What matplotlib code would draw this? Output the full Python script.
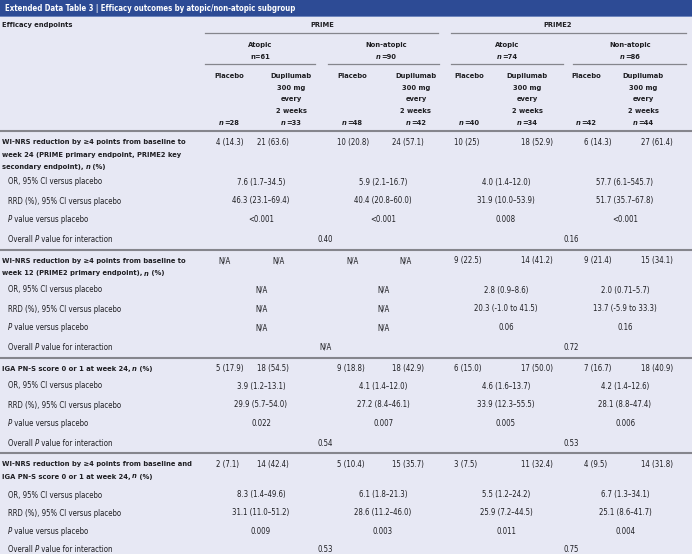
import matplotlib
matplotlib.use('Agg')
import matplotlib.pyplot as plt
from matplotlib import font_manager
from matplotlib.font_manager import FontProperties, findfont, get_font
from matplotlib.patches import Rectangle

# ---------------- data ----------------
title = "Extended Data Table 3 | Efficacy outcomes by atopic/non-atopic subgroup"
studies = ["PRIME", "PRIME2"]
subgroups = ["Atopic", "Non-atopic", "Atopic", "Non-atopic"]
subgroup_n = ["n=61", "*n*=90", "*n*=74", "*n*=86"]
arm_n = ["28", "33", "48", "42", "40", "34", "42", "44"]

endpoint_labels = [
    ["WI-NRS reduction by ≥4 points from baseline to",
     "week 24 (PRIME primary endpoint, PRIME2 key",
     "secondary endpoint), *n* (%)"],
    ["WI-NRS reduction by ≥4 points from baseline to",
     "week 12 (PRIME2 primary endpoint), *n* (%)"],
    ["IGA PN-S score 0 or 1 at week 24, *n* (%)"],
    ["WI-NRS reduction by ≥4 points from baseline and",
     "IGA PN-S score 0 or 1 at week 24, *n* (%)"],
]
sub_labels = ["OR, 95% CI versus placebo", "RRD (%), 95% CI versus placebo",
              "*P* value versus placebo", "Overall *P* value for interaction"]

responders = [
    ["4 (14.3)", "21 (63.6)", "10 (20.8)", "24 (57.1)", "10 (25)", "18 (52.9)", "6 (14.3)", "27 (61.4)"],
    ["N/A", "N/A", "N/A", "N/A", "9 (22.5)", "14 (41.2)", "9 (21.4)", "15 (34.1)"],
    ["5 (17.9)", "18 (54.5)", "9 (18.8)", "18 (42.9)", "6 (15.0)", "17 (50.0)", "7 (16.7)", "18 (40.9)"],
    ["2 (7.1)", "14 (42.4)", "5 (10.4)", "15 (35.7)", "3 (7.5)", "11 (32.4)", "4 (9.5)", "14 (31.8)"],
]
odds_ratio = [
    ["7.6 (1.7–34.5)", "5.9 (2.1–16.7)", "4.0 (1.4–12.0)", "57.7 (6.1–545.7)"],
    ["N/A", "N/A", "2.8 (0.9–8.6)", "2.0 (0.71–5.7)"],
    ["3.9 (1.2–13.1)", "4.1 (1.4–12.0)", "4.6 (1.6–13.7)", "4.2 (1.4–12.6)"],
    ["8.3 (1.4–49.6)", "6.1 (1.8–21.3)", "5.5 (1.2–24.2)", "6.7 (1.3–34.1)"],
]
rrd = [
    ["46.3 (23.1–69.4)", "40.4 (20.8–60.0)", "31.9 (10.0–53.9)", "51.7 (35.7–67.8)"],
    ["N/A", "N/A", "20.3 (-1.0 to 41.5)", "13.7 (-5.9 to 33.3)"],
    ["29.9 (5.7–54.0)", "27.2 (8.4–46.1)", "33.9 (12.3–55.5)", "28.1 (8.8–47.4)"],
    ["31.1 (11.0–51.2)", "28.6 (11.2–46.0)", "25.9 (7.2–44.5)", "25.1 (8.6–41.7)"],
]
p_values = [
    ["<0.001", "<0.001", "0.008", "<0.001"],
    ["N/A", "N/A", "0.06", "0.16"],
    ["0.022", "0.007", "0.005", "0.006"],
    ["0.009", "0.003", "0.011", "0.004"],
]
p_interaction = [
    ["0.40", "0.16"],
    ["N/A", "0.72"],
    ["0.54", "0.53"],
    ["0.53", "0.75"],
]

# ---------------- style ----------------
names = {f.name for f in font_manager.fontManager.ttflist}
STRETCH = 'normal'
if 'Liberation Sans Narrow' in names:
    FAM = 'Liberation Sans Narrow'
elif any(f.name == 'DejaVu Sans' and f.stretch == 'condensed' for f in font_manager.fontManager.ttflist):
    FAM = 'DejaVu Sans'
    STRETCH = 'condensed'
else:
    FAM = 'Liberation Sans'
plt.rcParams['font.family'] = [FAM, 'DejaVu Sans']

DPI = 100
BG = '#e7e8f4'
TITLE_BG = '#2d4b95'
TXT = '#1e1e22'
SEP = '#85858c'
FS = 5.6      # regular body text
FSB = 5.4     # bold text

fig = plt.figure(figsize=(6.92, 5.54), dpi=DPI)
fig.patch.set_facecolor(BG)
ax = fig.add_axes([0, 0, 1, 1])
ax.set_xlim(0, 692)
ax.set_ylim(554, 0)
ax.axis('off')
ax.set_facecolor(BG)


def width_of(s, weight, style, size):
    """Advance width of s in pixels (sum of glyph advances)."""
    prop = FontProperties(family=FAM, weight=weight, style=style,
                          stretch=STRETCH, size=size)
    font = get_font(findfont(prop))
    font.set_size(size, DPI)
    total = 0.0
    for c in s:
        g = font.load_char(ord(c))
        total += g.linearHoriAdvance / 65536.0
    return total


def rich(x, y, s, ha='left', bold=False, size=None, color=TXT):
    weight = 'bold' if bold else 'normal'
    if size is None:
        size = FSB if bold else FS
    if '*' not in s:
        ax.text(x, y, s, ha=ha, va='center', fontsize=size, fontweight=weight,
                fontstretch=STRETCH, color=color)
        return
    parts = s.split('*')
    segs = [(p, 'italic' if i % 2 else 'normal') for i, p in enumerate(parts) if p]
    widths = [width_of(p, weight, st, size) for p, st in segs]
    total = sum(widths)
    x0 = x - total / 2 if ha == 'center' else (x - total if ha == 'right' else x)
    for (p, st), w in zip(segs, widths):
        ax.text(x0, y, p, ha='left', va='center', fontsize=size, fontweight=weight,
                fontstyle=st, fontstretch=STRETCH, color=color)
        x0 += w


# title bar
ax.add_patch(Rectangle((0, 0), 692, 17, facecolor=TITLE_BG, edgecolor='none'))
ax.add_patch(Rectangle((0, 16), 692, 1.2, facecolor='#6f86bd', edgecolor='none'))
ax.text(5, 8.3, title, ha='left', va='center', fontsize=5.6, fontweight='bold',
        color='white', fontstretch=STRETCH)

# header
rich(2, 25, "Efficacy endpoints", bold=True)
study_x = [322, 558]
study_line = [(205, 438), (451, 686)]
for s, x, (a, b) in zip(studies, study_x, study_line):
    rich(x, 25, s, ha='center', bold=True)
    ax.plot([a, b], [33, 33], color=SEP, lw=0.9)

sub_x = [260, 386, 507, 630]
sub_line = [(205, 315), (328, 439), (451, 563), (573, 686)]
for s, n, x, (a, b) in zip(subgroups, subgroup_n, sub_x, sub_line):
    rich(x, 45, s, ha='center', bold=True)
    rich(x, 57, n, ha='center', bold=True)
    ax.plot([a, b], [64, 64], color=SEP, lw=0.9)

placebo_hdr_x = [229, 352, 469, 586]
dupi_hdr_x = [291, 416, 527, 643]
for px, dx in zip(placebo_hdr_x, dupi_hdr_x):
    rich(px, 76, "Placebo", ha='center', bold=True)
    for k, line in enumerate(["Dupilumab", "300 mg", "every", "2 weeks"]):
        rich(dx, 76 + k * 11.6, line, ha='center', bold=True)
arm_x = [val for pair in zip(placebo_hdr_x, dupi_hdr_x) for val in pair]
for x, n in zip(arm_x, arm_n):
    rich(x, 123, "*n*=" + n, ha='center', bold=True)

# body
sep_y = [131, 250, 358, 453]
label_y0 = [142, 261, 369, 464]
or_y = [182, 290, 386, 495]
row_step = [19.0, 19.0, 19.0, 18.0]
resp_left = [216, 257, 337, 392, 454, 521, 584, 641]
na_left = [218, 272, 346, 399]
pair_x = [261, 383, 506, 625]
inter_x = [325, 571]

for i in range(4):
    ax.plot([0, 692], [sep_y[i], sep_y[i]], color=SEP, lw=1.5, solid_capstyle='butt')
    for k, line in enumerate(endpoint_labels[i]):
        rich(2, label_y0[i] + k * 12.5, line, bold=True)
    for j, val in enumerate(responders[i]):
        x = resp_left[j]
        if val == "N/A" and j < 4:
            x = na_left[j]
        rich(x, label_y0[i], val)
    ys = [or_y[i] + k * row_step[i] for k in range(4)]
    for k, lab in enumerate(sub_labels):
        rich(8, ys[k], lab)
    for j in range(4):
        rich(pair_x[j], ys[0], odds_ratio[i][j], ha='center')
        rich(pair_x[j], ys[1], rrd[i][j], ha='center')
        rich(pair_x[j], ys[2], p_values[i][j], ha='center')
    for j in range(2):
        rich(inter_x[j], ys[3], p_interaction[i][j], ha='center')

fig.savefig('out.png', dpi=DPI, facecolor=BG)
